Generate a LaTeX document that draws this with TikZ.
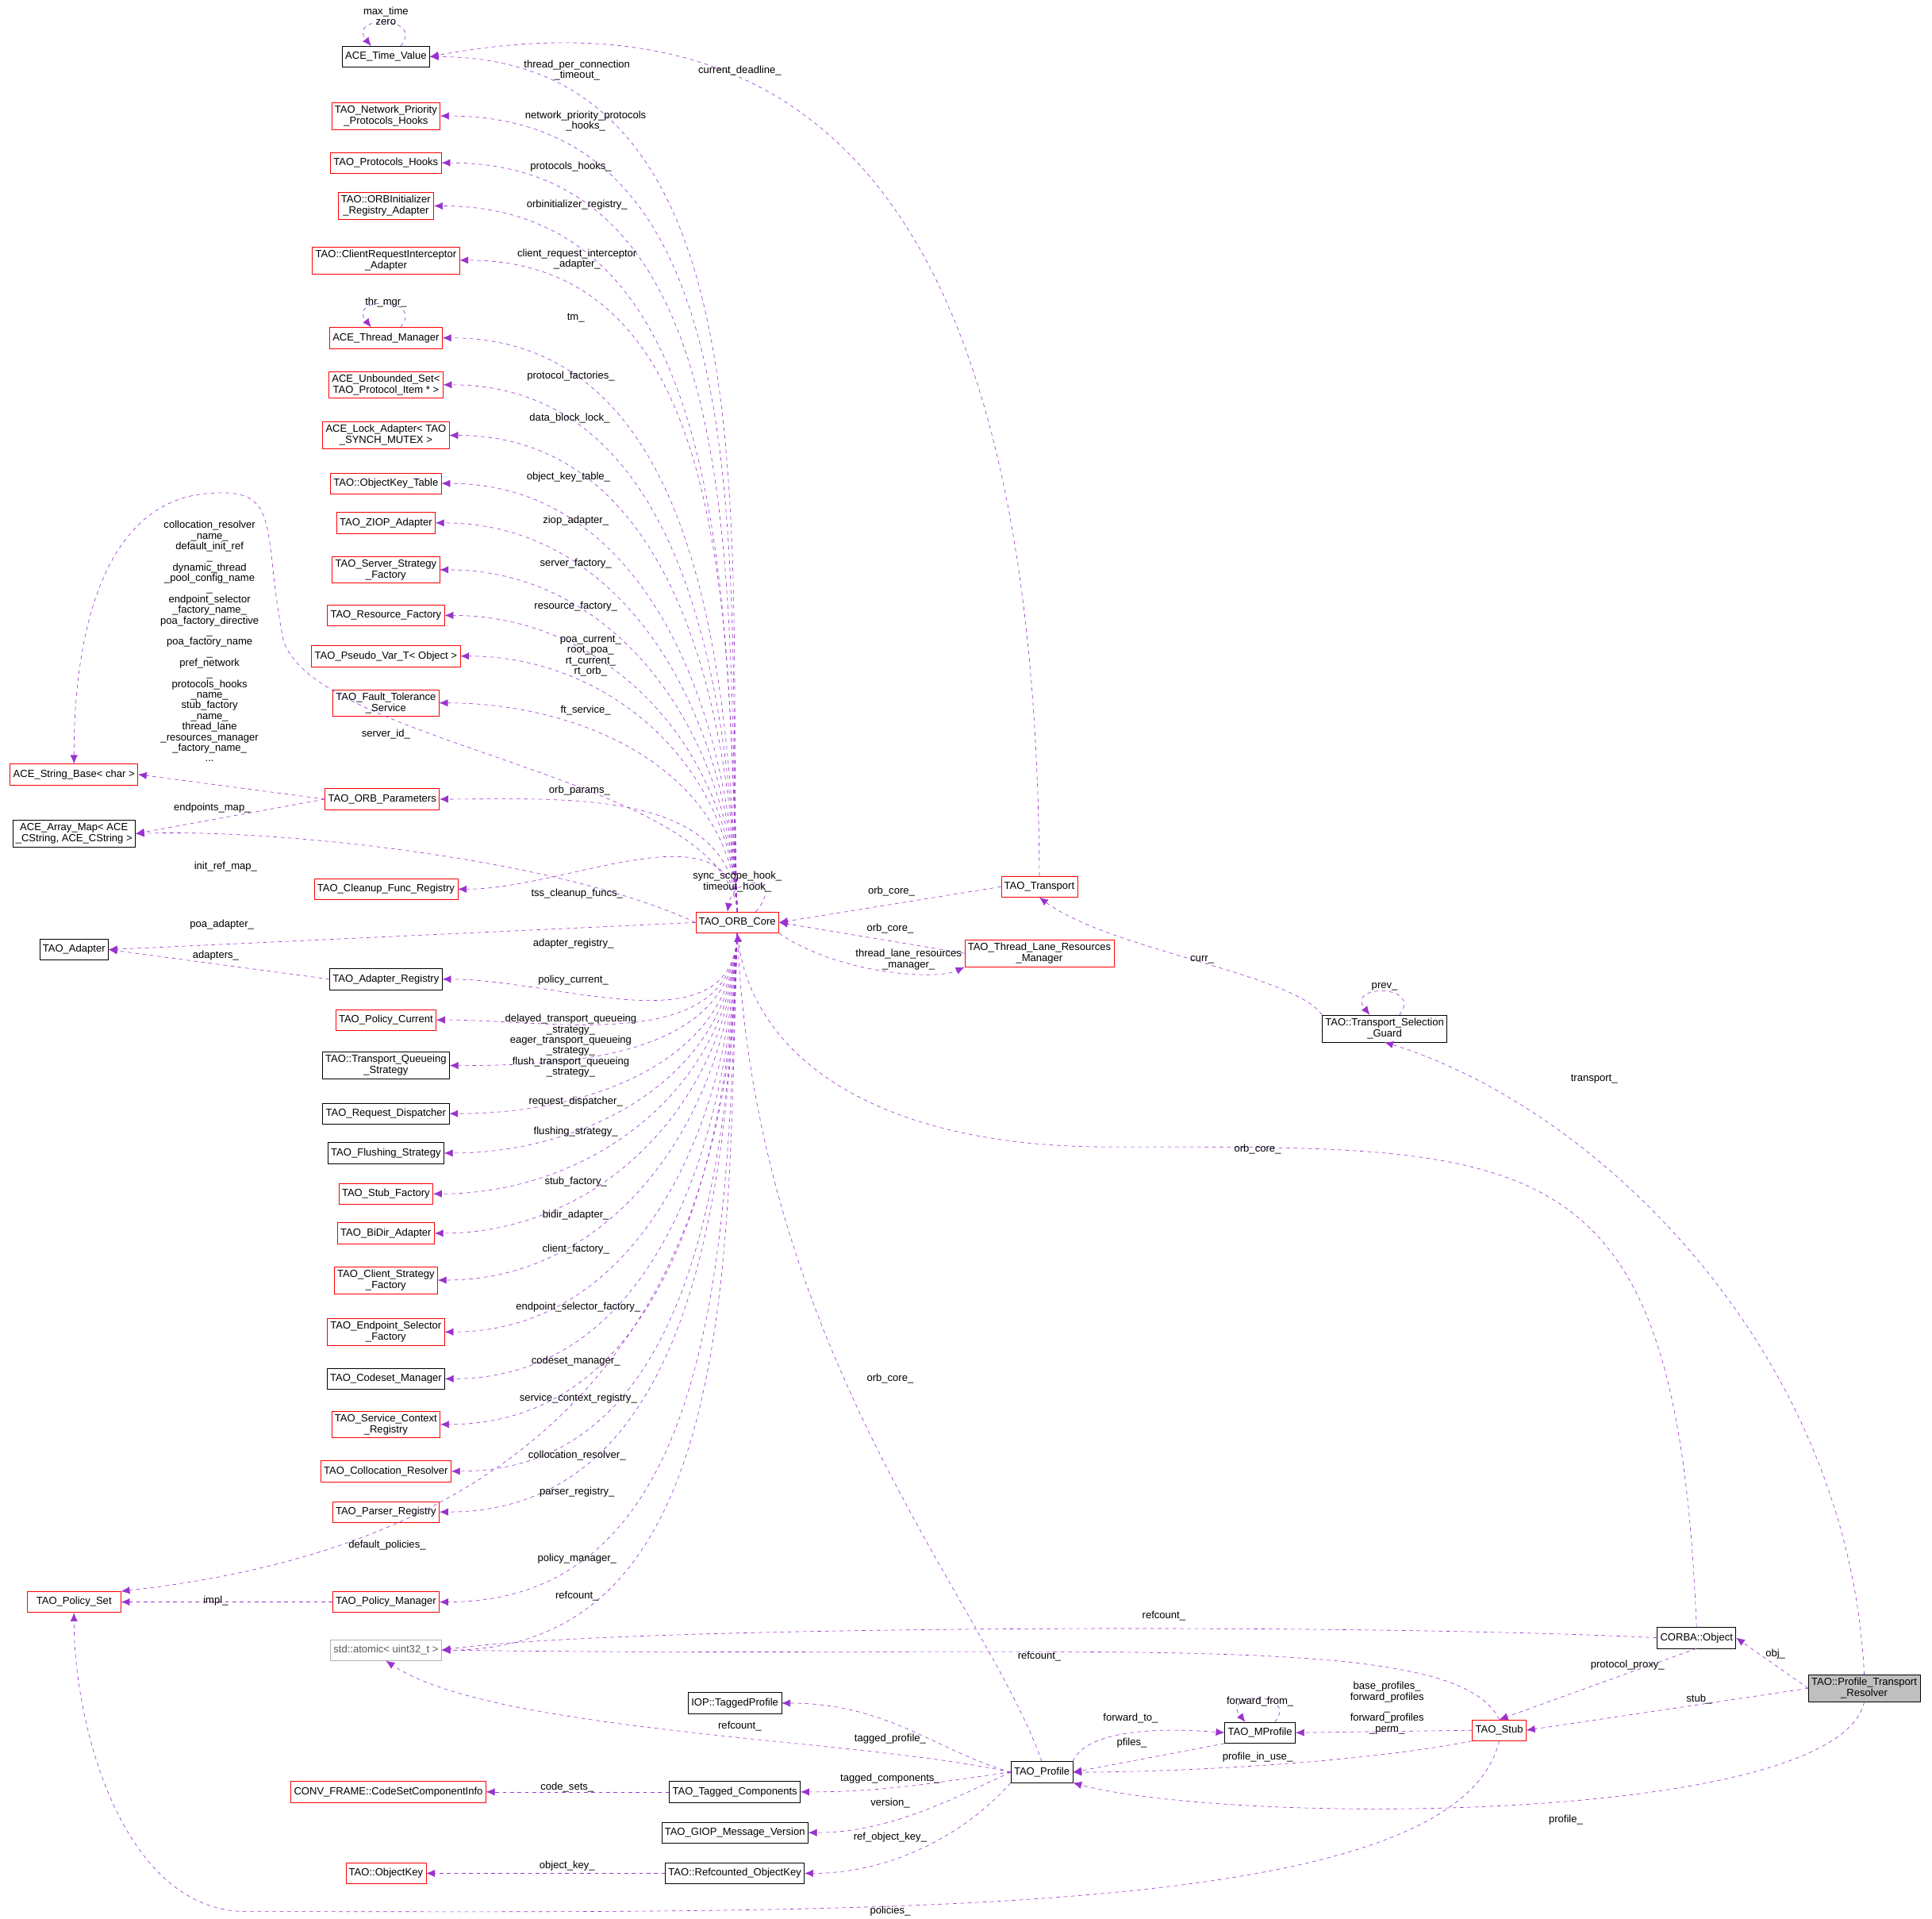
\documentclass[tikz,border=0pt]{standalone}
\usepackage{fontspec}
\setmainfont{Liberation Sans}
\usetikzlibrary{arrows.meta,calc}
\definecolor{edgecol}{HTML}{9A32CD}
\tikzset{
  box/.style={draw=black,fill=white,align=center,inner sep=2.5pt,minimum height=17pt,font=\fontsize{8.4}{9}\selectfont},
  redbox/.style={box,draw=red},
  graybox/.style={box,draw=gray!60,text=gray!70!black},
  selbox/.style={box,fill=gray!50},
  edge/.style={draw=edgecol,dashed,-{Latex[length=7pt,width=6pt]}},
  lbl/.style={align=center,inner sep=0pt,font=\fontsize{8.4}{8.6}\selectfont}
}
\begin{document}
\begin{tikzpicture}[x=1pt,y=-1pt]
        \useasboundingbox (0,0) rectangle (1567,1556);

        % left column
        \node [box] (tv) at (313,46) {ACE\_Time\_Value};
        \node [redbox] (nph) at (313,94) {TAO\_Network\_Priority\\\_Protocols\_Hooks};
        \node [redbox] (ph) at (313,132) {TAO\_Protocols\_Hooks};
        \node [redbox] (oira) at (313,167) {TAO::ORBInitializer\\\_Registry\_Adapter};
        \node [redbox] (cria) at (313,211) {TAO::ClientRequestInterceptor\\\_Adapter};
        \node [redbox] (tmgr) at (313,274) {ACE\_Thread\_Manager};
        \node [redbox] (uset) at (313,312) {ACE\_Unbounded\_Set<\\TAO\_Protocol\_Item * >};
        \node [redbox] (lock) at (313,353) {ACE\_Lock\_Adapter< TAO\\\_SYNCH\_MUTEX >};
        \node [redbox] (okt) at (313,392) {TAO::ObjectKey\_Table};
        \node [redbox] (ziop) at (313,424) {TAO\_ZIOP\_Adapter};
        \node [redbox] (ssf) at (313,462) {TAO\_Server\_Strategy\\\_Factory};
        \node [redbox] (rf) at (313,499) {TAO\_Resource\_Factory};
        \node [redbox] (pvar) at (313,532) {TAO\_Pseudo\_Var\_T< Object >};
        \node [redbox] (fts) at (313,570) {TAO\_Fault\_Tolerance\\\_Service};
        \node [redbox] (orbp) at (310,648) {TAO\_ORB\_Parameters};
        \node [redbox] (cfr) at (313,721) {TAO\_Cleanup\_Func\_Registry};
        \node [box] (areg) at (313,794) {TAO\_Adapter\_Registry};
        \node [redbox] (pcur) at (313,827) {TAO\_Policy\_Current};
        \node [box] (tqs) at (313,864) {TAO::Transport\_Queueing\\\_Strategy};
        \node [box] (rdisp) at (313,903) {TAO\_Request\_Dispatcher};
        \node [box] (fstr) at (313,935) {TAO\_Flushing\_Strategy};
        \node [redbox] (sfac) at (313,968) {TAO\_Stub\_Factory};
        \node [redbox] (bidir) at (313,1000) {TAO\_BiDir\_Adapter};
        \node [redbox] (csf) at (313,1038) {TAO\_Client\_Strategy\\\_Factory};
        \node [redbox] (esf) at (313,1080) {TAO\_Endpoint\_Selector\\\_Factory};
        \node [box] (csm) at (313,1118) {TAO\_Codeset\_Manager};
        \node [redbox] (scr) at (313,1155) {TAO\_Service\_Context\\\_Registry};
        \node [redbox] (colr) at (313,1193) {TAO\_Collocation\_Resolver};
        \node [redbox] (preg) at (313,1226) {TAO\_Parser\_Registry};
        \node [redbox] (pmgr) at (313,1299) {TAO\_Policy\_Manager};
        \node [graybox] (atom) at (313,1338) {std::atomic< uint32\_t >};

        % far left
        \node [redbox] (strb) at (60,628) {ACE\_String\_Base< char >};
        \node [box] (amap) at (60,676) {ACE\_Array\_Map< ACE\\\_CString, ACE\_CString >};
        \node [box] (adap) at (60,770) {TAO\_Adapter};
        \node [redbox, minimum width=76pt] (pset) at (60,1299) {TAO\_Policy\_Set};

        % centre and right
        \node [redbox] (core) at (598,748) {TAO\_ORB\_Core};
        \node [redbox] (trans) at (843,719) {TAO\_Transport};
        \node [redbox] (tlrm) at (843,773) {TAO\_Thread\_Lane\_Resources\\\_Manager};
        \node [box] (tsg) at (1123,834) {TAO::Transport\_Selection\\\_Guard};
        \node [box] (cobj) at (1376,1328) {CORBA::Object};
        \node [selbox] (ptr) at (1512,1369) {TAO::Profile\_Transport\\\_Resolver};
        \node [redbox] (stub) at (1216,1403) {TAO\_Stub};
        \node [box] (mprof) at (1022,1405) {TAO\_MProfile};
        \node [box] (prof) at (845,1437) {TAO\_Profile};
        \node [box] (iop) at (596,1381) {IOP::TaggedProfile};
        \node [box] (tcomp) at (596,1453) {TAO\_Tagged\_Components};
        \node [box] (giop) at (596,1486) {TAO\_GIOP\_Message\_Version};
        \node [box] (rok) at (596,1519) {TAO::Refcounted\_ObjectKey};
        \node [redbox] (conv) at (315,1453) {CONV\_FRAME::CodeSetComponentInfo};
        \node [redbox] (okey) at (313,1519) {TAO::ObjectKey};

        % ORB core members above
        \foreach \t/\txt/\lx/\ly [count=\i] in {
            tv/{thread\_per\_connection\\\_timeout\_}/468/57,
            nph/{network\_priority\_protocols\\\_hooks\_}/475/98,
            ph/{protocols\_hooks\_}/463/135,
            oira/{orbinitializer\_registry\_}/468/166,
            cria/{client\_request\_interceptor\\\_adapter\_}/468/210,
            tmgr/{tm\_}/467/258,
            uset/{protocol\_factories\_}/463/305,
            lock/{data\_block\_lock\_}/462/339,
            okt/{object\_key\_table\_}/461/387,
            ziop/{ziop\_adapter\_}/467/422,
            ssf/{server\_factory\_}/467/457,
            rf/{resource\_factory\_}/467/492,
            pvar/{poa\_current\_\\root\_poa\_\\rt\_current\_\\rt\_orb\_}/479/532,
            fts/{ft\_service\_}/475/576,
            orbp/{orb\_params\_}/470/641,
            cfr/{tss\_cleanup\_funcs\_}/468/725}
        {
            \draw [edge] (core.north) to[out=92,in=0] (\t.east);
            \node [lbl] (la\i) at (\lx,\ly) {\txt};
        }

        % ORB core members below
        \foreach \t/\txt/\lx/\ly [count=\i] in {
            areg/{adapter\_registry\_}/465/765,
            pcur/{policy\_current\_}/465/795,
            tqs/{delayed\_transport\_queueing\\\_strategy\_\\eager\_transport\_queueing\\\_strategy\_\\flush\_transport\_queueing\\\_strategy\_}/463/848,
            rdisp/{request\_dispatcher\_}/467/893,
            fstr/{flushing\_strategy\_}/467/918,
            sfac/{stub\_factory\_}/467/958,
            bidir/{bidir\_adapter\_}/467/985,
            csf/{client\_factory\_}/467/1013,
            esf/{endpoint\_selector\_factory\_}/469/1060,
            csm/{codeset\_manager\_}/467/1104,
            scr/{service\_context\_registry\_}/469/1134,
            colr/{collocation\_resolver\_}/468/1180,
            preg/{parser\_registry\_}/468/1210,
            pmgr/{policy\_manager\_}/468/1264,
            atom/{refcount\_}/468/1294}
        {
            \draw [edge] (core.south) to[out=-92,in=0] (\t.east);
            \node [lbl] (lb\i) at (\lx,\ly) {\txt};
        }

        % self loops
        \draw [edge] ([xshift=12]tv.north) .. controls +(20,-25) and +(-20,-25) .. ([xshift=-12]tv.north);
        \node [lbl] (ltv) at (313,13) {max\_time\\zero};
        \draw [edge] ([xshift=12]tmgr.north) .. controls +(20,-25) and +(-20,-25) .. ([xshift=-12]tmgr.north);
        \node [lbl] (ltm) at (313,245) {thr\_mgr\_};
        \draw [edge] ([xshift=15]core.north) .. controls +(25,-30) and +(5,-30) .. ([xshift=-8]core.north);
        \node [lbl] (lcore) at (598,715) {sync\_scope\_hook\_\\timeout\_hook\_};
        \draw [edge] ([xshift=12]tsg.north) .. controls +(20,-25) and +(-20,-25) .. ([xshift=-12]tsg.north);
        \node [lbl] (ltsg) at (1123,800) {prev\_};
        \draw [edge] ([xshift=12]mprof.north) .. controls +(20,-25) and +(-20,-25) .. ([xshift=-12]mprof.north);
        \node [lbl] (lmp) at (1022,1380) {forward\_from\_};

        % far left edges
        \draw [edge] (core.north) .. controls (588,630) and (260,605) .. (230,520)
            .. controls (212,430) and (230,395) .. (170,400)
            .. controls (90,405) and (60,500) .. (strb.north);
        \node [lbl] (lsid) at (313,595) {server\_id\_};
        \draw [edge] (orbp.west) -- (strb.east);
        \node [lbl] (lstr) at (170,520) {collocation\_resolver\\\_name\_\\default\_init\_ref\\\_\\dynamic\_thread\\\_pool\_config\_name\\\_\\endpoint\_selector\\\_factory\_name\_\\poa\_factory\_directive\\\_\\poa\_factory\_name\\\_\\pref\_network\\\_\\protocols\_hooks\\\_name\_\\stub\_factory\\\_name\_\\thread\_lane\\\_resources\_manager\\\_factory\_name\_\\...};
        \draw [edge] (orbp.west) -- (amap.east);
        \node [lbl] (lepm) at (172,655) {endpoints\_map\_};
        \draw [edge] (core.west) .. controls (450,695) and (220,672) .. (amap.east);
        \node [lbl] (lirm) at (183,703) {init\_ref\_map\_};
        \draw [edge] (core.west) -- (adap.east);
        \node [lbl] (lpoa) at (180,750) {poa\_adapter\_};
        \draw [edge] (areg.west) -- (adap.east);
        \node [lbl] (ladp) at (175,775) {adapters\_};
        \draw [edge] (core.south) .. controls (592,1150) and (350,1262) .. (pset.north east);
        \node [lbl] (ldp) at (314,1253) {default\_policies\_};
        \draw [edge] (pmgr.west) -- (pset.east);
        \node [lbl] (limpl) at (175,1298) {impl\_};

        % transport side
        \draw [edge] (trans.north) .. controls (840,150) and (650,-10) .. (tv.east);
        \node [lbl] (lcd) at (600,57) {current\_deadline\_};
        \draw [edge] (trans.west) -- (core.east);
        \node [lbl] (loc1) at (723,723) {orb\_core\_};
        \draw [edge] (tlrm.west) -- (core.east);
        \node [lbl] (loc2) at (722,753) {orb\_core\_};
        \draw [edge] (core.south east) .. controls (680,790) and (760,795) .. (tlrm.south west);
        \node [lbl] (ltlr) at (737,778) {thread\_lane\_resources\\\_manager\_};
        \draw [edge] (tsg.north west) .. controls (1050,790) and (900,770) .. (trans.south);
        \node [lbl] (lcurr) at (975,778) {curr\_};
        \draw [edge] (ptr.north) .. controls (1500,1100) and (1300,900) .. (tsg.south);
        \node [lbl] (ltr) at (1293,875) {transport\_};
        \draw [edge] (cobj.north) .. controls (1360,920) and (1250,930) .. (900,930)
            .. controls (700,930) and (610,850) .. (core.south);
        \node [lbl] (loc3) at (1020,932) {orb\_core\_};
        \draw [edge] (prof.north) .. controls (800,1300) and (615,1100) .. (core.south);
        \node [lbl] (loc4) at (722,1118) {orb\_core\_};

        % refcounts
        \draw [edge] (cobj.west) .. controls (1100,1316) and (500,1318) .. (atom.east);
        \node [lbl] (lrc1) at (944,1310) {refcount\_};
        \draw [edge] (stub.north) .. controls (1180,1320) and (900,1345) .. (atom.east);
        \node [lbl] (lrc2) at (843,1343) {refcount\_};
        \draw [edge] (prof.west) .. controls (700,1410) and (400,1405) .. (atom.south);
        \node [lbl] (lrc3) at (600,1400) {refcount\_};

        % resolver and stub
        \draw [edge] (ptr.west) -- (cobj.east);
        \node [lbl] (lobj) at (1440,1341) {obj\_};
        \draw [edge] (cobj.south) -- (stub.north);
        \node [lbl] (lpp) at (1320,1350) {protocol\_proxy\_};
        \draw [edge] (ptr.west) -- (stub.east);
        \node [lbl] (lstub) at (1378,1378) {stub\_};
        \draw [edge] (stub.west) -- (mprof.east);
        \node [lbl] (lbp) at (1125,1385) {base\_profiles\_\\forward\_profiles\\\_\\forward\_profiles\\\_perm\_};
        \draw [edge] (prof.north east) .. controls (880,1405) and (930,1400) .. (mprof.west);
        \node [lbl] (lft) at (917,1393) {forward\_to\_};
        \draw [edge] (mprof.south west) -- (prof.east);
        \node [lbl] (lpf) at (918,1413) {pfiles\_};
        \draw [edge] (stub.south west) .. controls (1100,1430) and (950,1437) .. (prof.east);
        \node [lbl] (lpiu) at (1020,1425) {profile\_in\_use\_};
        \draw [edge] (ptr.south) .. controls (1490,1480) and (1000,1480) .. (prof.south east);
        \node [lbl] (lprof) at (1270,1476) {profile\_};
        \draw [edge] (stub.south) .. controls (1180,1560) and (700,1550) .. (200,1550)
            .. controls (100,1550) and (60,1400) .. (pset.south);
        \node [lbl] (lpol) at (722,1550) {policies\_};

        % profile members
        \draw [edge] (prof.west) .. controls (760,1420) and (720,1381) .. (iop.east);
        \node [lbl] (ltp) at (722,1410) {tagged\_profile\_};
        \draw [edge] (prof.west) .. controls (760,1445) and (720,1453) .. (tcomp.east);
        \node [lbl] (ltc) at (722,1442) {tagged\_components\_};
        \draw [edge] (tcomp.west) -- (conv.east);
        \node [lbl] (lcs) at (460,1449) {code\_sets\_};
        \draw [edge] (prof.west) .. controls (770,1460) and (720,1486) .. (giop.east);
        \node [lbl] (lver) at (722,1462) {version\_};
        \draw [edge] (prof.south west) .. controls (780,1490) and (720,1519) .. (rok.east);
        \node [lbl] (lrok) at (722,1490) {ref\_object\_key\_};
        \draw [edge] (rok.west) -- (okey.east);
        \node [lbl] (lok) at (460,1513) {object\_key\_};
\end{tikzpicture}
\end{document}
